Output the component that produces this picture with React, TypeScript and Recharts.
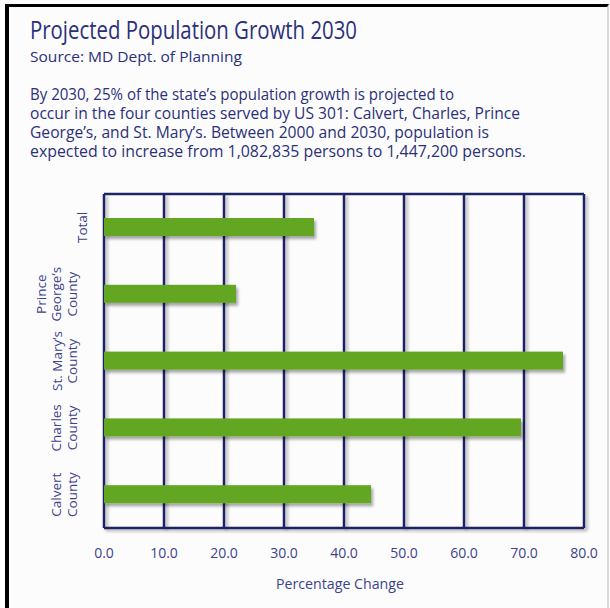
import React from 'react'
import { BarChart, Bar, XAxis, YAxis, CartesianGrid } from 'recharts'

// chart data
const categories = ['Total', 'Prince George’s County', 'St. Mary’s County', 'Charles County', 'Calvert County']
const categoryLines = [['Total'], ['Prince', 'George’s', 'County'], ['St. Mary’s', 'County'], ['Charles', 'County'], ['Calvert', 'County']]
const percentChange = [35.0, 22.0, 76.5, 69.5, 44.5]
const xTicks = [0, 10, 20, 30, 40, 50, 60, 70, 80]

// header text
const titleText = 'Projected Population Growth 2030'
const sourceText = 'Source: MD Dept. of Planning'
const introLines = [
  'By 2030, 25% of the state’s population growth is projected to',
  'occur in the four counties served by US 301: Calvert, Charles, Prince',
  'George’s, and St. Mary’s. Between 2000 and 2030, population is',
  'expected to increase from 1,082,835 persons to 1,447,200 persons.',
]
const introWidths = [424, 490, 459, 496]
const xAxisTitle = 'Percentage Change'

const data = categories.map((name, i) => ({ name, value: percentChange[i] }))

const NAVY = '#1d2468'
const TEXT = '#2b3078'
const LABEL = '#3c4389'
const GREEN = '#63a620'
const FONT = '"Open Sans", sans-serif'

const CategoryTick = (props: any) => {
  const { x, y, payload } = props
  const idx = categories.indexOf(payload.value)
  const lines = categoryLines[idx] ?? [payload.value]
  const last = lines.length > 1 ? x - 19 : x - 9
  return (
    <g>
      {lines.map((line, i) => {
        const bx = last - (lines.length - 1 - i) * 15.5
        return (
          <text
            key={i}
            x={bx}
            y={y}
            transform={`rotate(-90, ${bx}, ${y})`}
            textAnchor="middle"
            fontFamily={FONT}
            fontSize={13.5}
            fill={LABEL}
          >
            {line}
          </text>
        )
      })}
    </g>
  )
}

const ValueTick = (props: any) => {
  const { x, y, payload } = props
  return (
    <text x={x} y={y + 30} textAnchor="middle" fontFamily={FONT} fontSize={14} fill={LABEL}>
      {Number(payload.value).toFixed(1)}
    </text>
  )
}

const GridLine = (props: any) => (
  <line
    key={props.key}
    x1={props.x1}
    y1={props.y1}
    x2={props.x2}
    y2={props.y2}
    stroke={NAVY}
    strokeWidth={2.5}
    filter="url(#lineShadow)"
  />
)

const BarShape = (props: any) => (
  <rect x={props.x} y={props.y} width={props.width} height={props.height} fill={GREEN} filter="url(#barShadow)" />
)

export default function App() {
  return (
    <div style={{ position: 'absolute', left: 0, top: 0, width: 610, height: 608, background: '#fff', overflow: 'hidden' }}>
      <div
        style={{
          position: 'absolute',
          left: 5,
          top: 4,
          width: 604,
          height: 604,
          boxSizing: 'border-box',
          borderLeft: '4px solid #000',
          borderTop: '3px solid #000',
          borderRight: '2px solid #d9d9d9',
          background: '#fcfcfd',
        }}
      />
      <div style={{ position: 'absolute', left: 0, top: 0 }}>
        <BarChart
          width={610}
          height={608}
          data={data}
          layout="vertical"
          margin={{ top: 193, right: 26, bottom: 40, left: 4 }}
        >
          <defs>
            <filter id="barShadow" x="-5%" y="-30%" width="115%" height="190%">
              <feDropShadow dx={2} dy={3} stdDeviation={1.5} floodColor="#000" floodOpacity={0.35} />
            </filter>
            <filter id="lineShadow" filterUnits="userSpaceOnUse" x={0} y={0} width={610} height={608}>
              <feDropShadow dx={2.5} dy={2} stdDeviation={1.5} floodColor="#000" floodOpacity={0.3} />
            </filter>
          </defs>
          <CartesianGrid horizontal={false} vertical={GridLine} />
          <XAxis
            type="number"
            domain={[0, 80]}
            ticks={xTicks}
            tickLine={false}
            tickSize={0}
            tickMargin={0}
            axisLine={{ stroke: NAVY, strokeWidth: 2.5, filter: 'url(#lineShadow)' }}
            tick={ValueTick}
            height={40}
          />
          <XAxis
            xAxisId="top"
            orientation="top"
            type="number"
            domain={[0, 80]}
            ticks={xTicks}
            tick={false}
            tickLine={false}
            axisLine={{ stroke: NAVY, strokeWidth: 2.5 }}
            height={1}
          />
          <YAxis
            type="category"
            dataKey="name"
            width={100}
            tickLine={false}
            axisLine={false}
            tick={CategoryTick}
            interval={0}
          />
          <Bar dataKey="value" barSize={18} shape={BarShape} isAnimationActive={false} />
        </BarChart>
      </div>
      <svg width={610} height={608} style={{ position: 'absolute', left: 0, top: 0, pointerEvents: 'none' }}>
        <text x={30} y={39} fontFamily={FONT} fontSize={25} fill={TEXT} textLength={327} lengthAdjust="spacingAndGlyphs">
          {titleText}
        </text>
        <text x={30} y={62} fontFamily={FONT} fontSize={15} fill={TEXT} textLength={212} lengthAdjust="spacingAndGlyphs">
          {sourceText}
        </text>
        {introLines.map((line, i) => (
          <text
            key={i}
            x={30}
            y={100 + i * 19}
            fontFamily={FONT}
            fontSize={15.5}
            fill={TEXT}
            textLength={introWidths[i]}
            lengthAdjust="spacingAndGlyphs"
          >
            {line}
          </text>
        ))}
        <text x={340} y={589} textAnchor="middle" fontFamily={FONT} fontSize={15} fill={LABEL} textLength={128} lengthAdjust="spacingAndGlyphs">
          {xAxisTitle}
        </text>
      </svg>
    </div>
  )
}
